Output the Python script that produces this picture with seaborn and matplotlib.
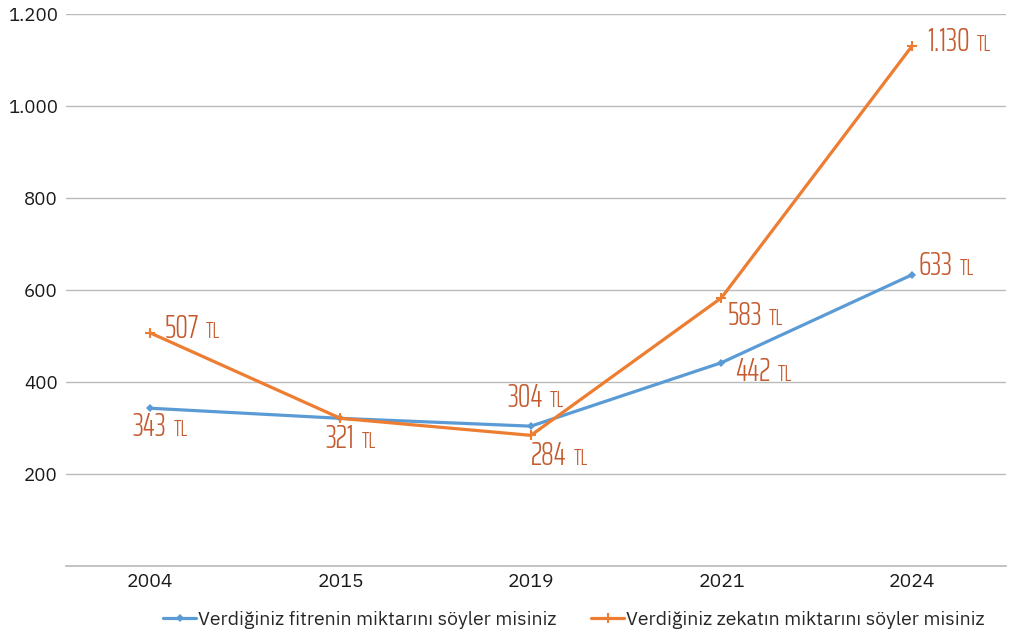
import pandas as pd
import matplotlib
matplotlib.use("Agg")
import matplotlib.pyplot as plt
import seaborn as sns
from matplotlib.offsetbox import TextArea, HPacker, AnnotationBbox

years = ["2004", "2015", "2019", "2021", "2024"]
fitre = [343, 321, 304, 442, 633]
zekat = [507, 321, 284, 583, 1130]
series_names = ["Verdiğiniz fitrenin miktarını söyler misiniz",
                "Verdiğiniz zekatın miktarını söyler misiniz"]
y_ticks = [200, 400, 600, 800, 1000, 1200]
y_tick_labels = ["200", "400", "600", "800", "1.000", "1.200"]

df = pd.DataFrame({"year": years, "fitre": fitre, "zekat": zekat})

sns.set_theme(style="white")
plex = ["IBM Plex Sans", "DejaVu Sans"]
cond = ["Saira ExtraCondensed", "Roboto Condensed", "DejaVu Sans"]
plt.rcParams["font.family"] = plex

fig = plt.figure(figsize=(10.28, 6.39), dpi=100)
ax = fig.add_axes([66 / 1028, 1 - 566 / 639, 940 / 1028, 552 / 639])

blue = "#5B9BD5"
orange = "#ED7D31"
lab_col = "#C55A2E"

sns.lineplot(data=df, x="year", y="fitre", color=blue, marker="D",
             markersize=4.5, markeredgewidth=0, linewidth=2.3,
             label=series_names[0], ax=ax)
sns.lineplot(data=df, x="year", y="zekat", color=orange, marker="+",
             markersize=6.5, markeredgewidth=1.5, markeredgecolor=orange,
             linewidth=2.3, label=series_names[1], ax=ax)

ax.set_xlim(-0.441, 4.494)
ax.set_ylim(0, 1200)
ax.set_yticks(y_ticks)
ax.set_yticklabels(y_tick_labels, fontsize=13.5, color="#1a1a1a")
ax.yaxis.grid(True, color="#BBBBBB", linewidth=1)
ax.set_axisbelow(True)
for s in ["top", "right", "left"]:
    ax.spines[s].set_visible(False)
ax.spines["bottom"].set_color("#BBBBBB")
ax.tick_params(axis="x", length=0, pad=5, labelsize=14, labelcolor="#1a1a1a")
ax.tick_params(axis="y", length=0, pad=6)
ax.set_xlabel("")
ax.set_ylabel("")


def tl_label(i, v, dx, dy, box_align):
    num = TextArea(f"{v:,}".replace(",", "."),
                   textprops=dict(fontsize=23, color=lab_col, family=cond, fontweight=300))
    tl = TextArea("TL", textprops=dict(fontsize=16, color=lab_col, family=cond, fontweight=300))
    pack = HPacker(children=[num, tl], align="baseline", pad=0, sep=5)
    # offsets given in pixels, converted to points
    ab = AnnotationBbox(pack, (i, v), xybox=(dx * 0.72, dy * 0.72), xycoords="data",
                        boxcoords="offset points", box_alignment=box_align,
                        frameon=False)
    ax.add_artist(ab)


# fitre labels
tl_label(0, fitre[0], 10, -19, (0.5, 0.5))
tl_label(2, fitre[2], 5, 28, (0.5, 0.5))
tl_label(3, fitre[3], 14, -9, (0.0, 0.5))
tl_label(4, fitre[4], 7, 9, (0.0, 0.5))
# zekat labels
tl_label(0, zekat[0], 15, 4, (0.0, 0.5))
tl_label(1, zekat[1], 10, -21, (0.5, 0.5))
tl_label(2, zekat[2], 28, -21, (0.5, 0.5))
tl_label(3, zekat[3], 6, -18, (0.0, 0.5))
tl_label(4, zekat[4], 15, 4, (0.0, 0.5))

handles, labels = ax.get_legend_handles_labels()
ax.legend(handles, labels, loc="center", bbox_to_anchor=(574 / 1028, 1 - 620 / 639),
          bbox_transform=fig.transFigure,
          ncol=2, frameon=False, handlelength=1.7, handletextpad=0.1,
          columnspacing=1.8, prop=dict(family=plex, size=14))

fig.savefig("out.png", dpi=100)
